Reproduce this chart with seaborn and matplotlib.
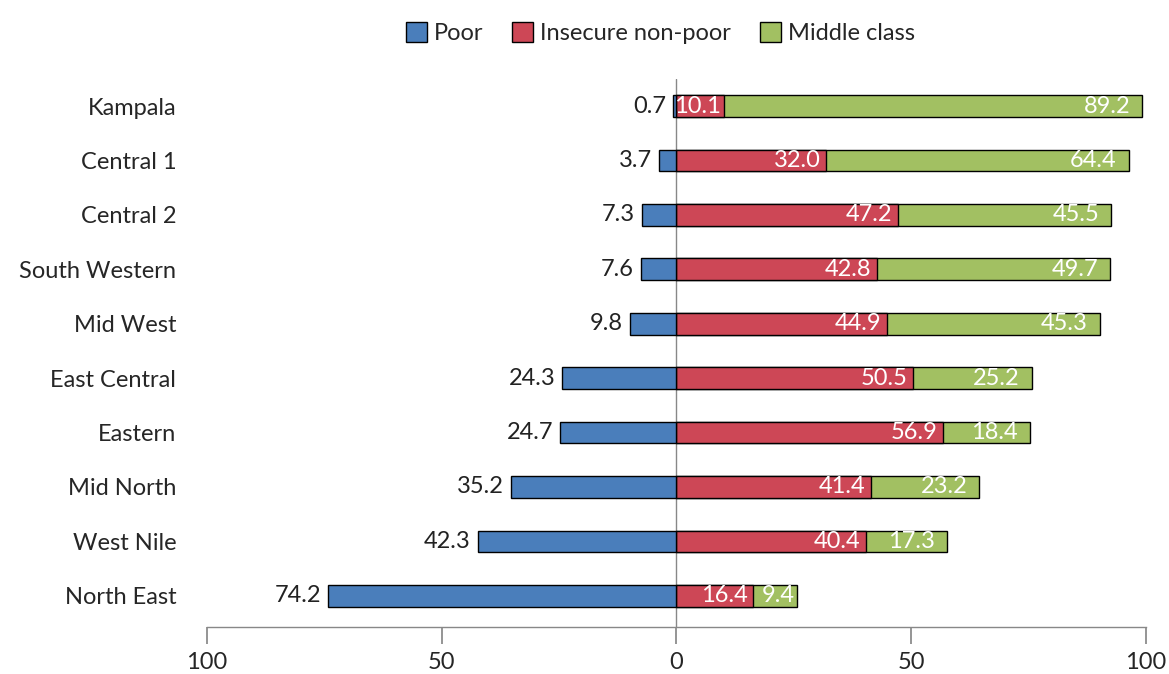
import matplotlib
matplotlib.use("Agg")
import matplotlib.pyplot as plt
import seaborn as sns
import pandas as pd
import numpy as np
from matplotlib.patches import Patch

regions = ["Kampala", "Central 1", "Central 2", "South Western", "Mid West",
           "East Central", "Eastern", "Mid North", "West Nile", "North East"]
poor = [0.7, 3.7, 7.3, 7.6, 9.8, 24.3, 24.7, 35.2, 42.3, 74.2]
insecure = [10.1, 32.0, 47.2, 42.8, 44.9, 50.5, 56.9, 41.4, 40.4, 16.4]
middle = [89.2, 64.4, 45.5, 49.7, 45.3, 25.2, 18.4, 23.2, 17.3, 9.4]
series_names = ["Poor", "Insecure non-poor", "Middle class"]
xtick_vals = [-100, -50, 0, 50, 100]
xtick_labels = ["100", "50", "0", "50", "100"]

c_blue = "#4A7EBB"
c_red = "#CD4756"
c_green = "#A2C062"

sns.set_theme(style="white")
plt.rcParams['font.family'] = ['Lato', 'DejaVu Sans']

df = pd.DataFrame({"region": regions, "poor": poor, "insecure": insecure, "middle": middle})
df["neg_poor"] = -df["poor"]
df["total"] = df["insecure"] + df["middle"]

fig = plt.figure(figsize=(11.69, 6.74), dpi=100)
ax = fig.add_axes([0.177, 0.07, 0.803, 0.813])

kw = dict(edgecolor="black", linewidth=1.0, width=0.4, orient="h", ax=ax, order=regions)
sns.barplot(data=df, x="total", y="region", color=c_green, saturation=1, **kw)
sns.barplot(data=df, x="insecure", y="region", color=c_red, saturation=1, **kw)
sns.barplot(data=df, x="neg_poor", y="region", color=c_blue, saturation=1, **kw)

fs = 17
for i, r in enumerate(regions):
    ax.text(-poor[i] - 1.5, i, f"{poor[i]:.1f}", ha="right", va="center", fontsize=fs, color="#222222")
    ipad = 1.2 if insecure[i] > 12 else 0.5
    ax.text(insecure[i] - ipad, i, f"{insecure[i]:.1f}", ha="right", va="center", fontsize=fs, color="white")
    mpad = 2.6 if middle[i] > 12 else 0.5
    ax.text(insecure[i] + middle[i] - mpad, i, f"{middle[i]:.1f}", ha="right", va="center", fontsize=fs, color="white")

ax.axvline(0, color="#888888", linewidth=1.0, zorder=0.5)
ax.set_xlim(-100, 100)
ax.set_ylim(9.57, -0.5)
ax.set_xticks(xtick_vals)
ax.set_xticklabels(xtick_labels, fontsize=fs)
ax.tick_params(axis="x", direction="out", length=12, color="#888888", pad=6, bottom=True)
ax.tick_params(axis="y", length=0, pad=22, labelsize=fs)
ax.set_xlabel("")
ax.set_ylabel("")
for s in ["top", "right", "left"]:
    ax.spines[s].set_visible(False)
ax.spines["bottom"].set_color("#888888")
ax.spines["bottom"].set_linewidth(1.0)

handles = [Patch(facecolor=c, edgecolor="black", linewidth=1.0) for c in (c_blue, c_red, c_green)]
fig.legend(handles, series_names, loc="center", bbox_to_anchor=(0.565, 0.951), ncol=3,
           frameon=False, fontsize=fs, handlelength=0.9, handleheight=0.9,
           handletextpad=0.3, columnspacing=1.2)

fig.savefig("out.png", dpi=100)
